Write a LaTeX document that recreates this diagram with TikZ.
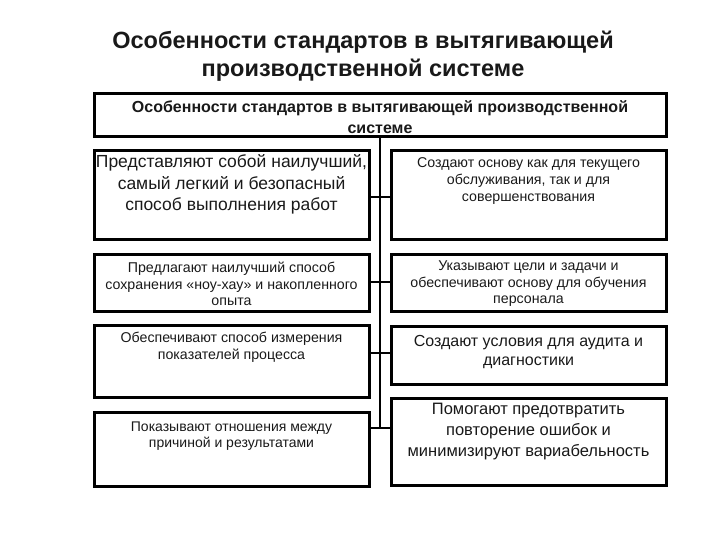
\documentclass[tikz,border=0pt]{standalone}
\usepackage{fontspec}
\setmainfont{Liberation Sans}
\begin{document}
\begin{tikzpicture}[x=1pt,y=-1pt,
  box/.style={draw=black,line width=3pt,inner sep=0pt,minimum width=275pt},
  txt/.style={align=center,inner sep=0pt,text=black!90},
  link/.style={draw=black,line width=2.2pt}]
\useasboundingbox (0,0) rectangle (720,540);
% title
\node[txt,font=\fontsize{23.5}{28}\selectfont\bfseries] (title) at (363,56)
  {Особенности стандартов в вытягивающей\\производственной системе};
% header
\node[box,minimum width=572pt,minimum height=43pt] (head) at (380,115.5) {};
\node[txt,font=\fontsize{16}{21}\selectfont\bfseries] (headt) at (380,117.5)
  {Особенности стандартов в вытягивающей производственной\\системе};
% boxes
\node[box,minimum height=88pt] (l1) at (231.5,195) {};
\node[box,minimum height=88pt] (r1) at (528.5,195) {};
\node[box,minimum height=57pt] (l2) at (231.5,282.5) {};
\node[box,minimum height=57pt] (r2) at (528.5,282.5) {};
\node[box,minimum height=72pt] (l3) at (231.5,361.5) {};
\node[box,minimum height=58pt] (r3) at (528.5,355) {};
\node[box,minimum height=74pt] (l4) at (231.5,449.5) {};
\node[box,minimum height=87pt] (r4) at (528.5,442) {};
% texts
\node[txt,font=\fontsize{17.5}{21.5}\selectfont] (l1t) at (231.5,184.5)
  {Представляют собой наилучший,\\самый легкий и безопасный\\способ выполнения работ};
\node[txt,font=\fontsize{14.2}{17}\selectfont] (r1t) at (528.5,181)
  {Создают основу как для текущего\\обслуживания, так и для\\совершенствования};
\node[txt,font=\fontsize{14.2}{16.5}\selectfont] (l2t) at (231.5,284)
  {Предлагают наилучший способ\\сохранения «ноу-хау» и накопленного\\опыта};
\node[txt,font=\fontsize{14.2}{16.5}\selectfont] (r2t) at (528.5,284)
  {Указывают цели и задачи и\\обеспечивают основу для обучения\\персонала};
\node[txt,font=\fontsize{14.2}{17.5}\selectfont] (l3t) at (231.5,347.5)
  {Обеспечивают способ измерения\\показателей процесса};
\node[txt,font=\fontsize{16}{19}\selectfont] (r3t) at (528.5,352)
  {Создают условия для аудита и\\диагностики};
\node[txt,font=\fontsize{14}{16.5}\selectfont] (l4t) at (231.5,436)
  {Показывают отношения между\\причиной и результатами};
\node[txt,font=\fontsize{16.5}{21}\selectfont] (r4t) at (528.5,432)
  {Помогают предотвратить\\повторение ошибок и\\минимизируют вариабельность};
% spine coordinates
\coordinate (s1) at (380,197);
\coordinate (s2) at (380,282);
\coordinate (s3) at (380,353);
\coordinate (s4) at (380,428);
\draw[link] (head.south) -- (head.south |- s4);
\draw[link] (l1.east |- s1) -- (r1.west |- s1);
\draw[link] (l2.east |- s2) -- (r2.west |- s2);
\draw[link] (l3.east |- s3) -- (r3.west |- s3);
\draw[link] (l4.east |- s4) -- (r4.west |- s4);
\end{tikzpicture}
\end{document}
